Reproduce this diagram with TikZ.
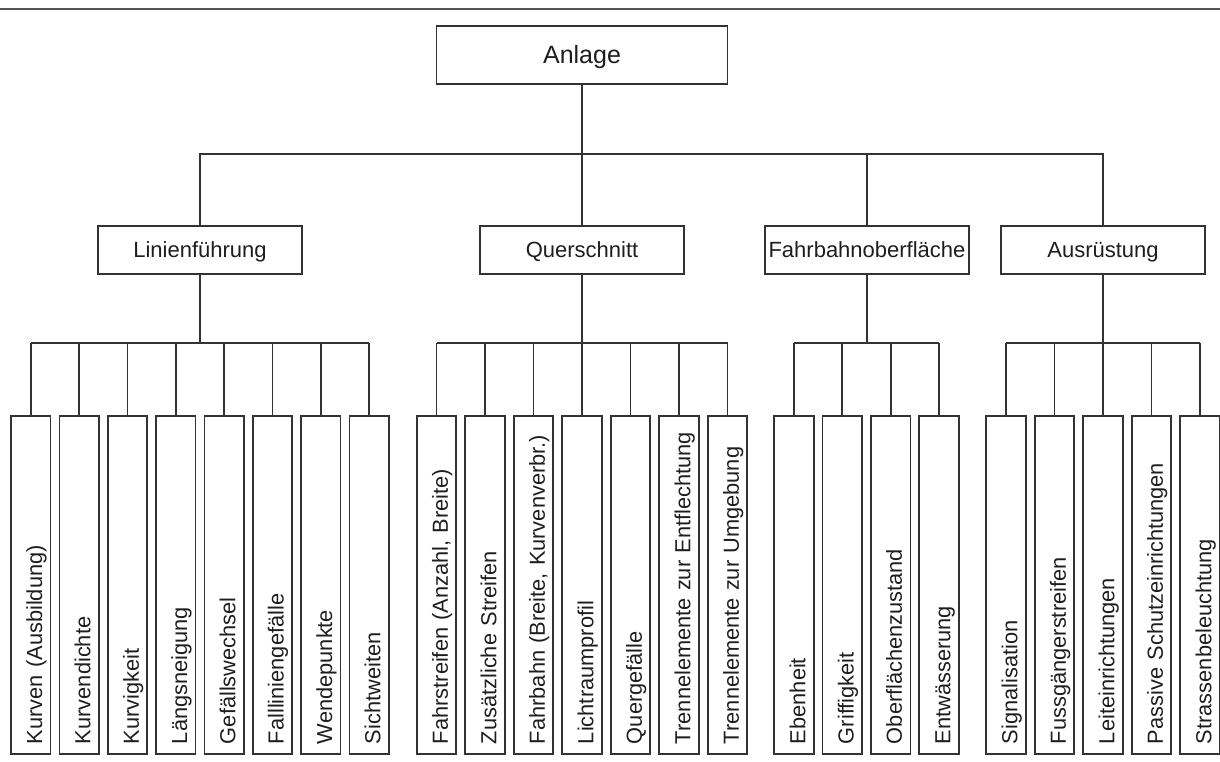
\documentclass[tikz,border=0pt]{standalone}
\usepackage{fontspec}
\setmainfont{Liberation Sans}
\definecolor{ln}{HTML}{333333}
\definecolor{tx}{HTML}{1E1E1E}
\definecolor{rl}{HTML}{555555}
\begin{document}
\begin{tikzpicture}[x=1pt,y=1pt,
  box/.style={draw=ln, line width=1.7pt, fill=white, text=tx},
  topbox/.style={box, minimum width=291pt, minimum height=58pt, inner sep=0pt,
    font=\fontsize{25}{30}\selectfont, text height=18pt, text depth=0pt},
  midbox/.style={box, minimum width=204pt, minimum height=48pt, inner sep=0pt,
    font=\fontsize{22}{26}\selectfont, text height=15.8pt, text depth=0pt},
  leafbox/.style={box, rotate=90, inner xsep=10pt, inner ysep=0pt, text width=318pt,
    align=left, text height=31pt, text depth=8.5pt, font=\fontsize{21.8}{26}\selectfont},
  conn/.style={draw=ln, line width=1.7pt}]
\path[fill=white, use as bounding box] (0,0) rectangle (1220,-762);
% top rule
\coordinate (rl) at (0,-9);
\coordinate (rr) at (1220,-9);
\draw[draw=rl, line width=2pt] (rl) -- (rr);
% root
\node[topbox] (anl) at (582,-55) {Anlage};
% second level
\node[midbox] (lin) at (200,-250) {Linienführung};
\node[midbox] (que) at (582,-250) {Querschnitt};
\node[midbox] (fob) at (867,-250) {Fahrbahnoberfläche};
\node[midbox] (aus) at (1103,-250) {Ausrüstung};
\coordinate (b0) at (582,-154);
\draw[conn] (anl.south) -- (b0);
\draw[conn] (lin.north) |- (b0) -| (aus.north);
\draw[conn] (que.north) -- (que.north |- b0);
\draw[conn] (fob.north) -- (fob.north |- b0);
% lower buses
\coordinate (lb1) at (200,-343);
\coordinate (lb2) at (582,-343);
\coordinate (lb3) at (867,-343);
\coordinate (lb4) at (1103,-343);
\draw[conn] (lin.south) -- (lb1);
\draw[conn] (que.south) -- (lb2);
\draw[conn] (fob.south) -- (lb3);
\draw[conn] (aus.south) -- (lb4);
% leaves: Linienfuehrung
\foreach [count=\i from 0] \t in {Kurven (Ausbildung),Kurvendichte,Kurvigkeit,Längsneigung,Gefällswechsel,Fallliniengefälle,Wendepunkte,Sichtweiten}{
  \node[leafbox] (L\i) at ({200+(\i-3.5)*48.33},-585) {\t};
  \draw[conn] (L\i.east) -- (L\i.east |- lb1);
}
\draw[conn] (L0.east |- lb1) -- (L7.east |- lb1);
% leaves: Querschnitt
\foreach [count=\i from 0] \t in {{Fahrstreifen (Anzahl, Breite)},Zusätzliche Streifen,{Fahrbahn (Breite, Kurvenverbr.)},Lichtraumprofil,Quergefälle,Trennelemente zur Entflechtung,Trennelemente zur Umgebung}{
  \node[leafbox] (Q\i) at ({582+(\i-3)*48.5},-585) {\t};
  \draw[conn] (Q\i.east) -- (Q\i.east |- lb2);
}
\draw[conn] (Q0.east |- lb2) -- (Q6.east |- lb2);
% leaves: Fahrbahnoberflaeche
\foreach [count=\i from 0] \t in {Ebenheit,Griffigkeit,Oberflächenzustand,Entwässerung}{
  \node[leafbox] (F\i) at ({866.5+(\i-1.5)*48.33},-585) {\t};
  \draw[conn] (F\i.east) -- (F\i.east |- lb3);
}
\draw[conn] (F0.east |- lb3) -- (F3.east |- lb3);
% leaves: Ausruestung
\foreach [count=\i from 0] \t in {Signalisation,Fussgängerstreifen,Leiteinrichtungen,Passive Schutzeinrichtungen,Strassenbeleuchtung}{
  \node[leafbox] (A\i) at ({1103+(\i-2)*48.5},-585) {\t};
  \draw[conn] (A\i.east) -- (A\i.east |- lb4);
}
\draw[conn] (A0.east |- lb4) -- (A4.east |- lb4);
\end{tikzpicture}
\end{document}
